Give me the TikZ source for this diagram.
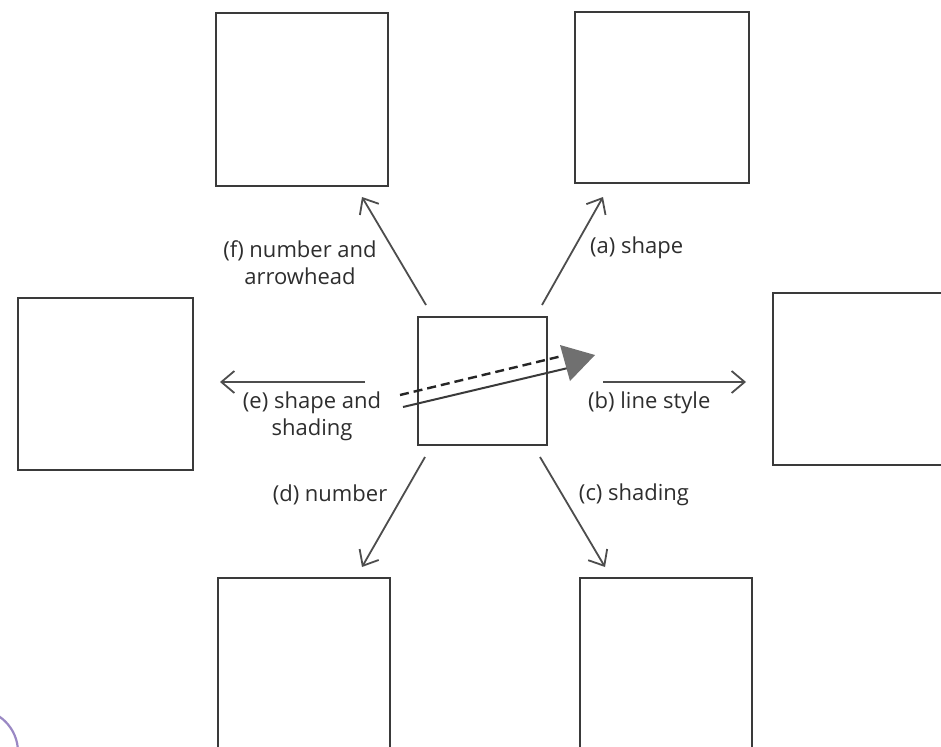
\documentclass[tikz,border=0pt]{standalone}
\usepackage{fontspec}
\setmainfont{Open Sans}
\usetikzlibrary{arrows.meta}
\definecolor{boxgray}{HTML}{3A3A3A}
\definecolor{arrgray}{HTML}{4D4D4D}
\definecolor{txtgray}{HTML}{2E2E2E}
\definecolor{headgray}{HTML}{707070}
\definecolor{lavender}{HTML}{9A88C4}
\begin{document}
\begin{tikzpicture}[x=1pt,y=-1pt,
  box/.style={draw=boxgray, line width=2pt, inner sep=0pt, fill=white},
  conn/.style={draw=arrgray, line width=1.8pt, -{Straight Barb[length=13pt,width=22pt,line width=1.8pt]}},
  lbl/.style={font=\fontsize{22}{27}\selectfont, text=txtgray, inner sep=0pt, align=center}]
\useasboundingbox (0,0) rectangle (941,746);
\clip (0,0) rectangle (941,746);
\fill[white] (0,0) rectangle (941,746);

% boxes
\node[box, minimum width=172pt, minimum height=173pt] (tl) at (302,99.5) {};
\node[box, minimum width=174pt, minimum height=171pt] (tr) at (662,97.5) {};
\node[box, minimum width=175pt, minimum height=172pt] (lt) at (105.5,384) {};
\node[box, minimum width=174pt, minimum height=172pt] (rt) at (860,379) {};
\node[box, minimum width=172pt, minimum height=174pt] (bl) at (304,665) {};
\node[box, minimum width=172pt, minimum height=174pt] (br) at (666,665) {};
\node[box, minimum width=129pt, minimum height=128pt] (c) at (482,381) {};

% connector end points
\coordinate (fS) at (426,305); \coordinate (fE) at (362,197);
\coordinate (aS) at (542,305); \coordinate (aE) at (603,197);
\coordinate (eS) at (365,382); \coordinate (eE) at (220,382);
\coordinate (bS) at (603,382); \coordinate (bE) at (746,382);
\coordinate (dS) at (425,457); \coordinate (dE) at (362,567);
\coordinate (cS) at (540,457); \coordinate (cE) at (605,567);

\draw[conn] (fS) -- (fE);
\draw[conn] (aS) -- (aE);
\draw[conn] (eS) -- (eE);
\draw[conn] (bS) -- (bE);
\draw[conn] (dS) -- (dE);
\draw[conn] (cS) -- (cE);

% labels
\node[lbl] (tf) at (300,263) {(f) number and\\arrowhead};
\node[lbl, anchor=west] (ta) at (590,248) {(a) shape};
\node[lbl] (te) at (312,416) {(e) shape and\\shading};
\node[lbl, anchor=west] (tb) at (588,403) {(b) line style};
\node[lbl] (td) at (330,495) {(d) number};
\node[lbl] (tc) at (634,495) {(c) shading};

% combined example arrow
\coordinate (xS) at (400,395); \coordinate (xE) at (562,356);
\coordinate (yS) at (403,407); \coordinate (yE) at (568,368);
\coordinate (h1) at (560,345); \coordinate (h2) at (595,355); \coordinate (h3) at (570,381);
\draw[black!85, line width=2.4pt, dash pattern=on 9pt off 5pt] (xS) -- (xE);
\draw[boxgray, line width=2pt] (yS) -- (yE);
\fill[headgray] (h1) -- (h2) -- (h3) -- cycle;

% stray purple arc
\draw[lavender, line width=2.2pt] (-25,752) circle (43);
\end{tikzpicture}
\end{document}
